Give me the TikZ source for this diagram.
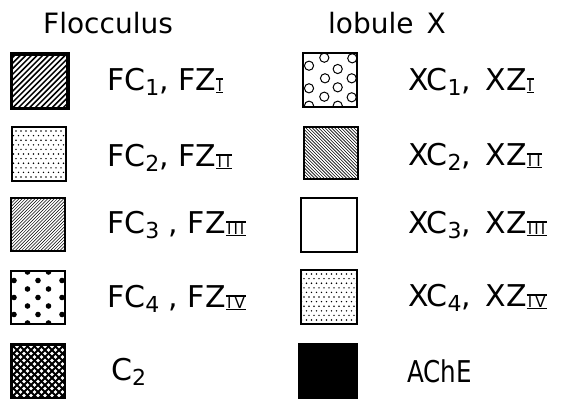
\documentclass[tikz,border=0pt]{standalone}
\usepackage{fontspec}
\setmainfont{DejaVu Sans}
\newfontfamily\narrowfont[FakeStretch=0.82]{DejaVu Sans}
\newcommand\dsub[1]{\raisebox{-5pt}{\fontsize{22}{22}\selectfont #1}}
\newcommand\rn[1]{\raisebox{-3pt}{\vbox{\offinterlineskip\hrule height 1.5pt\kern0.4pt\hbox{\fontsize{15}{15}\selectfont\kern1.3pt #1\kern1.3pt}\kern0.4pt\hrule height 1.5pt}}}
\begin{document}
\begin{tikzpicture}[x=1pt,y=-1pt,
  box/.style={draw, line width=2pt, inner sep=0pt},
  lab/.style={anchor=base west, inner sep=0pt, font=\fontsize{30}{36}\selectfont},
  head/.style={anchor=base west, inner sep=0pt, font=\fontsize{28}{34}\selectfont},
  pp/.style={path picture={\begin{scope}[shift={(path picture bounding box.center)}]#1\end{scope}}},
  thickne/.style={pp={\foreach \i in {-12,...,12}\draw[line width=1.5pt](\i*5.6-40,40)--(\i*5.6+40,-40);}},
  fine ne/.style={pp={\foreach \i in {-22,...,22}\draw[line width=0.5pt](\i*3.2-40,40)--(\i*3.2+40,-40);}},
  fine nw/.style={pp={\foreach \i in {-22,...,22}\draw[line width=0.6pt](\i*3.2-40,-40)--(\i*3.2+40,40);}},
  cross/.style={pp={\foreach \i in {-12,...,12}{\draw[line width=1.9pt](\i*7-40,40)--(\i*7+40,-40);\draw[line width=1.9pt](\i*7-40,-40)--(\i*7+40,40);}}},
  fine dots/.style={pp={\foreach \r in {-6,-4,...,6}\foreach \c in {-6,...,6}{\fill (\c*5pt,\r*4.6pt) circle (0.8pt);\fill (\c*5pt+2.5pt,\r*4.6pt+4.6pt) circle (0.8pt);}}},
  big dots/.style={pp={\foreach \k in {0,2,4,6}\foreach \c in {-10.5,10.5}\fill (\c pt,-25.5pt+\k*8.5pt) circle (2.8pt);
     \foreach \k in {1,3,5}\foreach \c in {-24,0,24}\fill (\c pt,-25.5pt+\k*8.5pt) circle (2.8pt);}},
  rings/.style={pp={\foreach \p in {(-5.7,-22.3),(22.3,-21.7),(-21,-14.3),(7.7,-11),(-5,-1.7),(21.7,-1.7),(-21,8.3),(7.7,7.3),(-5.7,16.7),(21.7,17.3),(-21,25.7),(7.7,25.7)}\draw[line width=1pt] \p circle (4.6pt);}}
]
\useasboundingbox (0,0) rectangle (561,400);

% headings
\node[head] (hF) at (43,33) {Flocculus};
\node[head] (hX) at (328,33) {lobule\hspace*{13pt}X};

% left column boxes
\node[box, line width=3.5pt, minimum width=56.5pt, minimum height=54.5pt, thickne] (b1) at (39.5,81) {};
\node[box, minimum width=54pt, minimum height=54pt, fine dots] (b2) at (38.5,154) {};
\node[box, minimum width=54pt, minimum height=53pt, fine ne] (b3) at (38,224.5) {};
\node[box, minimum width=54pt, minimum height=53pt, big dots] (b4) at (38,297.5) {};
\node[box, line width=2.5pt, minimum width=53.5pt, minimum height=53.5pt, cross] (b5) at (38,371) {};

% right column boxes
\node[box, minimum width=54pt, minimum height=54pt, rings] (r1) at (330,80) {};
\node[box, minimum width=54pt, minimum height=52pt, fine nw] (r2) at (331,153) {};
\node[box, minimum width=56pt, minimum height=54pt] (r3) at (329,225) {};
\node[box, minimum width=56pt, minimum height=54pt, fine dots] (r4) at (329,297) {};
\node[box, fill=black, minimum width=58pt, minimum height=54pt] (r5) at (328,371) {};

% left labels
\node[lab] (l1) at (107,90) {FC\dsub{1}, FZ\rn{I}};
\node[lab] (l2) at (107,166) {FC\dsub{2}, FZ\rn{I\kern4pt I}};
\node[lab] (l3) at (107,233) {FC\dsub{3} , FZ\rn{I\kern2pt I\kern2pt I}};
\node[lab] (l4) at (107,307) {FC\dsub{4} , FZ\rn{I\kern3pt V}};
\node[lab] (l5) at (111,380) {C\dsub{2}};

% right labels
\node[lab] (m1) at (408,90) {XC\dsub{1}, \,XZ\rn{I}};
\node[lab] (m2) at (408,165) {XC\dsub{2}, \,XZ\rn{I\kern4pt I}};
\node[lab] (m3) at (408,233) {XC\dsub{3}, \,XZ\rn{I\kern2pt I\kern2pt I}};
\node[lab] (m4) at (408,306) {XC\dsub{4}, \,XZ\rn{I\kern3pt V}};
\node[lab, font=\fontsize{30}{36}\narrowfont] (m5) at (407,382) {AChE};
\end{tikzpicture}
\end{document}
